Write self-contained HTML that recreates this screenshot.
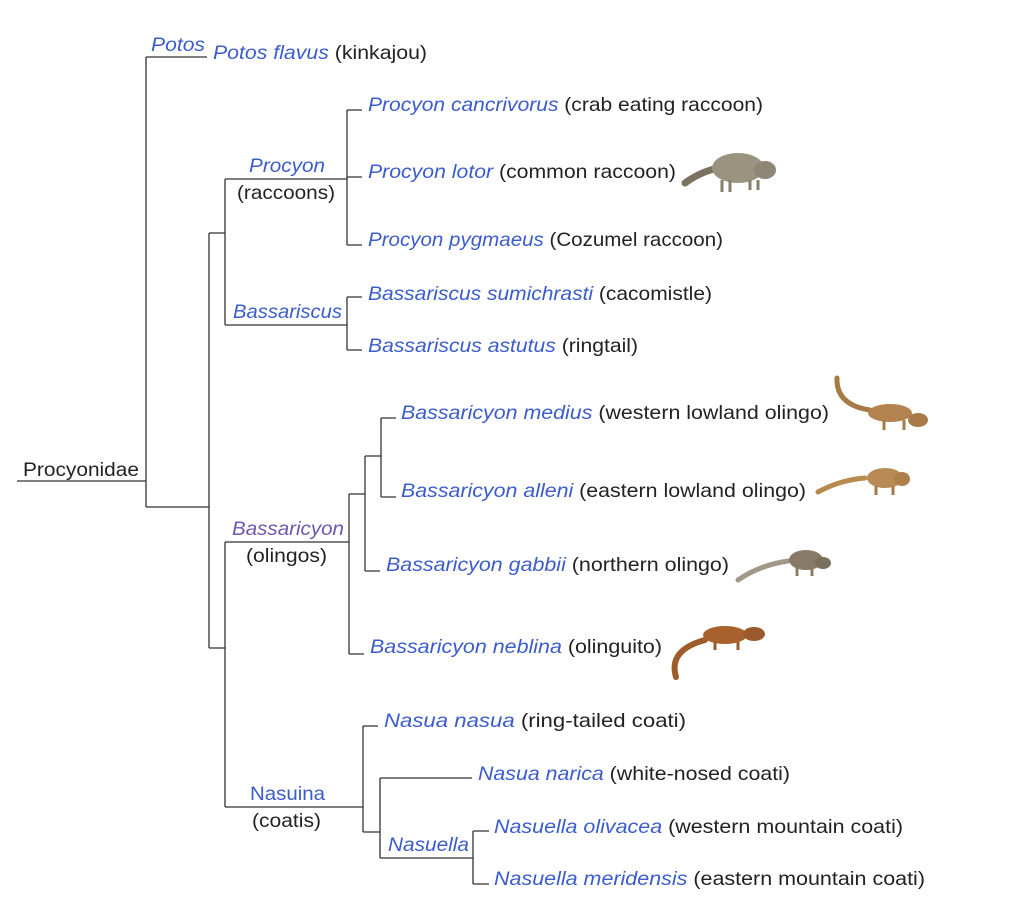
<!DOCTYPE html>
<html><head><meta charset="utf-8"><style>
html,body{margin:0;padding:0;background:#fff;}
svg{display:block;}
text{font-family:"Liberation Sans",sans-serif;font-size:19.5px;fill:#222;}
.b{fill:#3b5ccc;font-style:italic;}
.bn{fill:#3b5ccc;}
.p{fill:#6a58b0;font-style:italic;}
</style></head><body>
<svg width="1024" height="923" viewBox="0 0 1024 923" xmlns="http://www.w3.org/2000/svg">
<g stroke="#333" stroke-width="1.3" fill="none">
<path d="M17 481H146M146 57V507M146 57H207M146 507H209"/>
<path d="M209 233V648M209 233H225M209 648H225"/>
<path d="M225 179V325M225 179H347M347 110V245M347 110H362M347 177H362M347 245H362"/>
<path d="M225 325H347M347 297V350M347 297H362M347 350H362"/>
<path d="M225 542V807M225 542H349M349 494V654M349 494H365M349 654H364"/>
<path d="M365 456V571M365 456H381M365 571H380M381 418V497M381 418H396M381 497H396"/>
<path d="M225 807H363M363 726V832M363 726H378M363 832H380M380 778V858M380 778H472M380 858H473M473 831V884M473 831H489M473 884H489"/>
</g>
<g>
<text x="23" y="476" textLength="116" lengthAdjust="spacingAndGlyphs">Procyonidae</text>
<text class="b" x="151" y="51" textLength="54" lengthAdjust="spacingAndGlyphs">Potos</text>
<text class="b" x="249" y="172" textLength="76" lengthAdjust="spacingAndGlyphs">Procyon</text>
<text x="237" y="199" textLength="98" lengthAdjust="spacingAndGlyphs">(raccoons)</text>
<text class="b" x="233" y="318" textLength="109" lengthAdjust="spacingAndGlyphs">Bassariscus</text>
<text class="p" x="232" y="535" textLength="112" lengthAdjust="spacingAndGlyphs">Bassaricyon</text>
<text x="246" y="562" textLength="81" lengthAdjust="spacingAndGlyphs">(olingos)</text>
<text class="bn" x="250" y="800" textLength="75" lengthAdjust="spacingAndGlyphs">Nasuina</text>
<text x="252" y="827" textLength="69" lengthAdjust="spacingAndGlyphs">(coatis)</text>
<text class="b" x="388" y="851" textLength="81" lengthAdjust="spacingAndGlyphs">Nasuella</text>

<text x="213" y="59" textLength="214" lengthAdjust="spacingAndGlyphs"><tspan class="b">Potos flavus</tspan> (kinkajou)</text>
<text x="368" y="111" textLength="395" lengthAdjust="spacingAndGlyphs"><tspan class="b">Procyon cancrivorus</tspan> (crab eating raccoon)</text>
<text x="368" y="178" textLength="308" lengthAdjust="spacingAndGlyphs"><tspan class="b">Procyon lotor</tspan> (common raccoon)</text>
<text x="368" y="246" textLength="355" lengthAdjust="spacingAndGlyphs"><tspan class="b">Procyon pygmaeus</tspan> (Cozumel raccoon)</text>
<text x="368" y="300" textLength="344" lengthAdjust="spacingAndGlyphs"><tspan class="b">Bassariscus sumichrasti</tspan> (cacomistle)</text>
<text x="368" y="352" textLength="270" lengthAdjust="spacingAndGlyphs"><tspan class="b">Bassariscus astutus</tspan> (ringtail)</text>
<text x="401" y="419" textLength="428" lengthAdjust="spacingAndGlyphs"><tspan class="b">Bassaricyon medius</tspan> (western lowland olingo)</text>
<text x="401" y="497" textLength="405" lengthAdjust="spacingAndGlyphs"><tspan class="b">Bassaricyon alleni</tspan> (eastern lowland olingo)</text>
<text x="386" y="571" textLength="343" lengthAdjust="spacingAndGlyphs"><tspan class="b">Bassaricyon gabbii</tspan> (northern olingo)</text>
<text x="370" y="653" textLength="292" lengthAdjust="spacingAndGlyphs"><tspan class="b">Bassaricyon neblina</tspan> (olinguito)</text>
<text x="384" y="727" textLength="302" lengthAdjust="spacingAndGlyphs"><tspan class="b">Nasua nasua</tspan> (ring-tailed coati)</text>
<text x="478" y="780" textLength="312" lengthAdjust="spacingAndGlyphs"><tspan class="b">Nasua narica</tspan> (white-nosed coati)</text>
<text x="494" y="833" textLength="409" lengthAdjust="spacingAndGlyphs"><tspan class="b">Nasuella olivacea</tspan> (western mountain coati)</text>
<text x="494" y="885" textLength="431" lengthAdjust="spacingAndGlyphs"><tspan class="b">Nasuella meridensis</tspan> (eastern mountain coati)</text>
</g>

<g>
<path d="M685 183 Q700 172 718 168" stroke="#7a7160" stroke-width="7" fill="none" stroke-linecap="round"/>
<ellipse cx="738" cy="168" rx="26" ry="15" fill="#9a937f"/>
<ellipse cx="765" cy="170" rx="11" ry="9" fill="#8e8776"/>
<path d="M722 180v12M730 180v12M750 180v10M758 180v10" stroke="#877f6c" stroke-width="3"/>
</g>
<g>
<path d="M837 378 Q836 405 870 410" stroke="#a57a45" stroke-width="5" fill="none" stroke-linecap="round"/>
<ellipse cx="890" cy="413" rx="22" ry="9" fill="#b38450"/>
<ellipse cx="918" cy="420" rx="10" ry="7" fill="#a87a48"/>
<path d="M884 420v10M904 420v10" stroke="#a67a45" stroke-width="3"/>
</g>
<g>
<path d="M818 492 Q840 480 865 478" stroke="#b98a4f" stroke-width="5" fill="none" stroke-linecap="round"/>
<ellipse cx="885" cy="478" rx="18" ry="10" fill="#b98a55"/>
<ellipse cx="902" cy="479" rx="8" ry="7" fill="#ad7f4b"/>
<path d="M876 486v9M893 486v9" stroke="#a57844" stroke-width="3"/>
</g>
<g>
<path d="M738 580 Q760 565 788 561" stroke="#a19888" stroke-width="5" fill="none" stroke-linecap="round"/>
<ellipse cx="806" cy="560" rx="17" ry="10" fill="#877a66"/>
<ellipse cx="823" cy="563" rx="8" ry="6" fill="#7a6f5c"/>
<path d="M797 567v9M812 567v9" stroke="#8d7c60" stroke-width="3"/>
</g>
<g>
<path d="M676 677 Q668 650 705 640" stroke="#9e5c2a" stroke-width="6" fill="none" stroke-linecap="round"/>
<ellipse cx="725" cy="635" rx="22" ry="9" fill="#a9622d"/>
<ellipse cx="754" cy="634" rx="11" ry="7" fill="#9a5a2b"/>
<path d="M715 642v8M738 642v8" stroke="#9a5a2b" stroke-width="3"/>
</g>
</svg>
</body></html>
